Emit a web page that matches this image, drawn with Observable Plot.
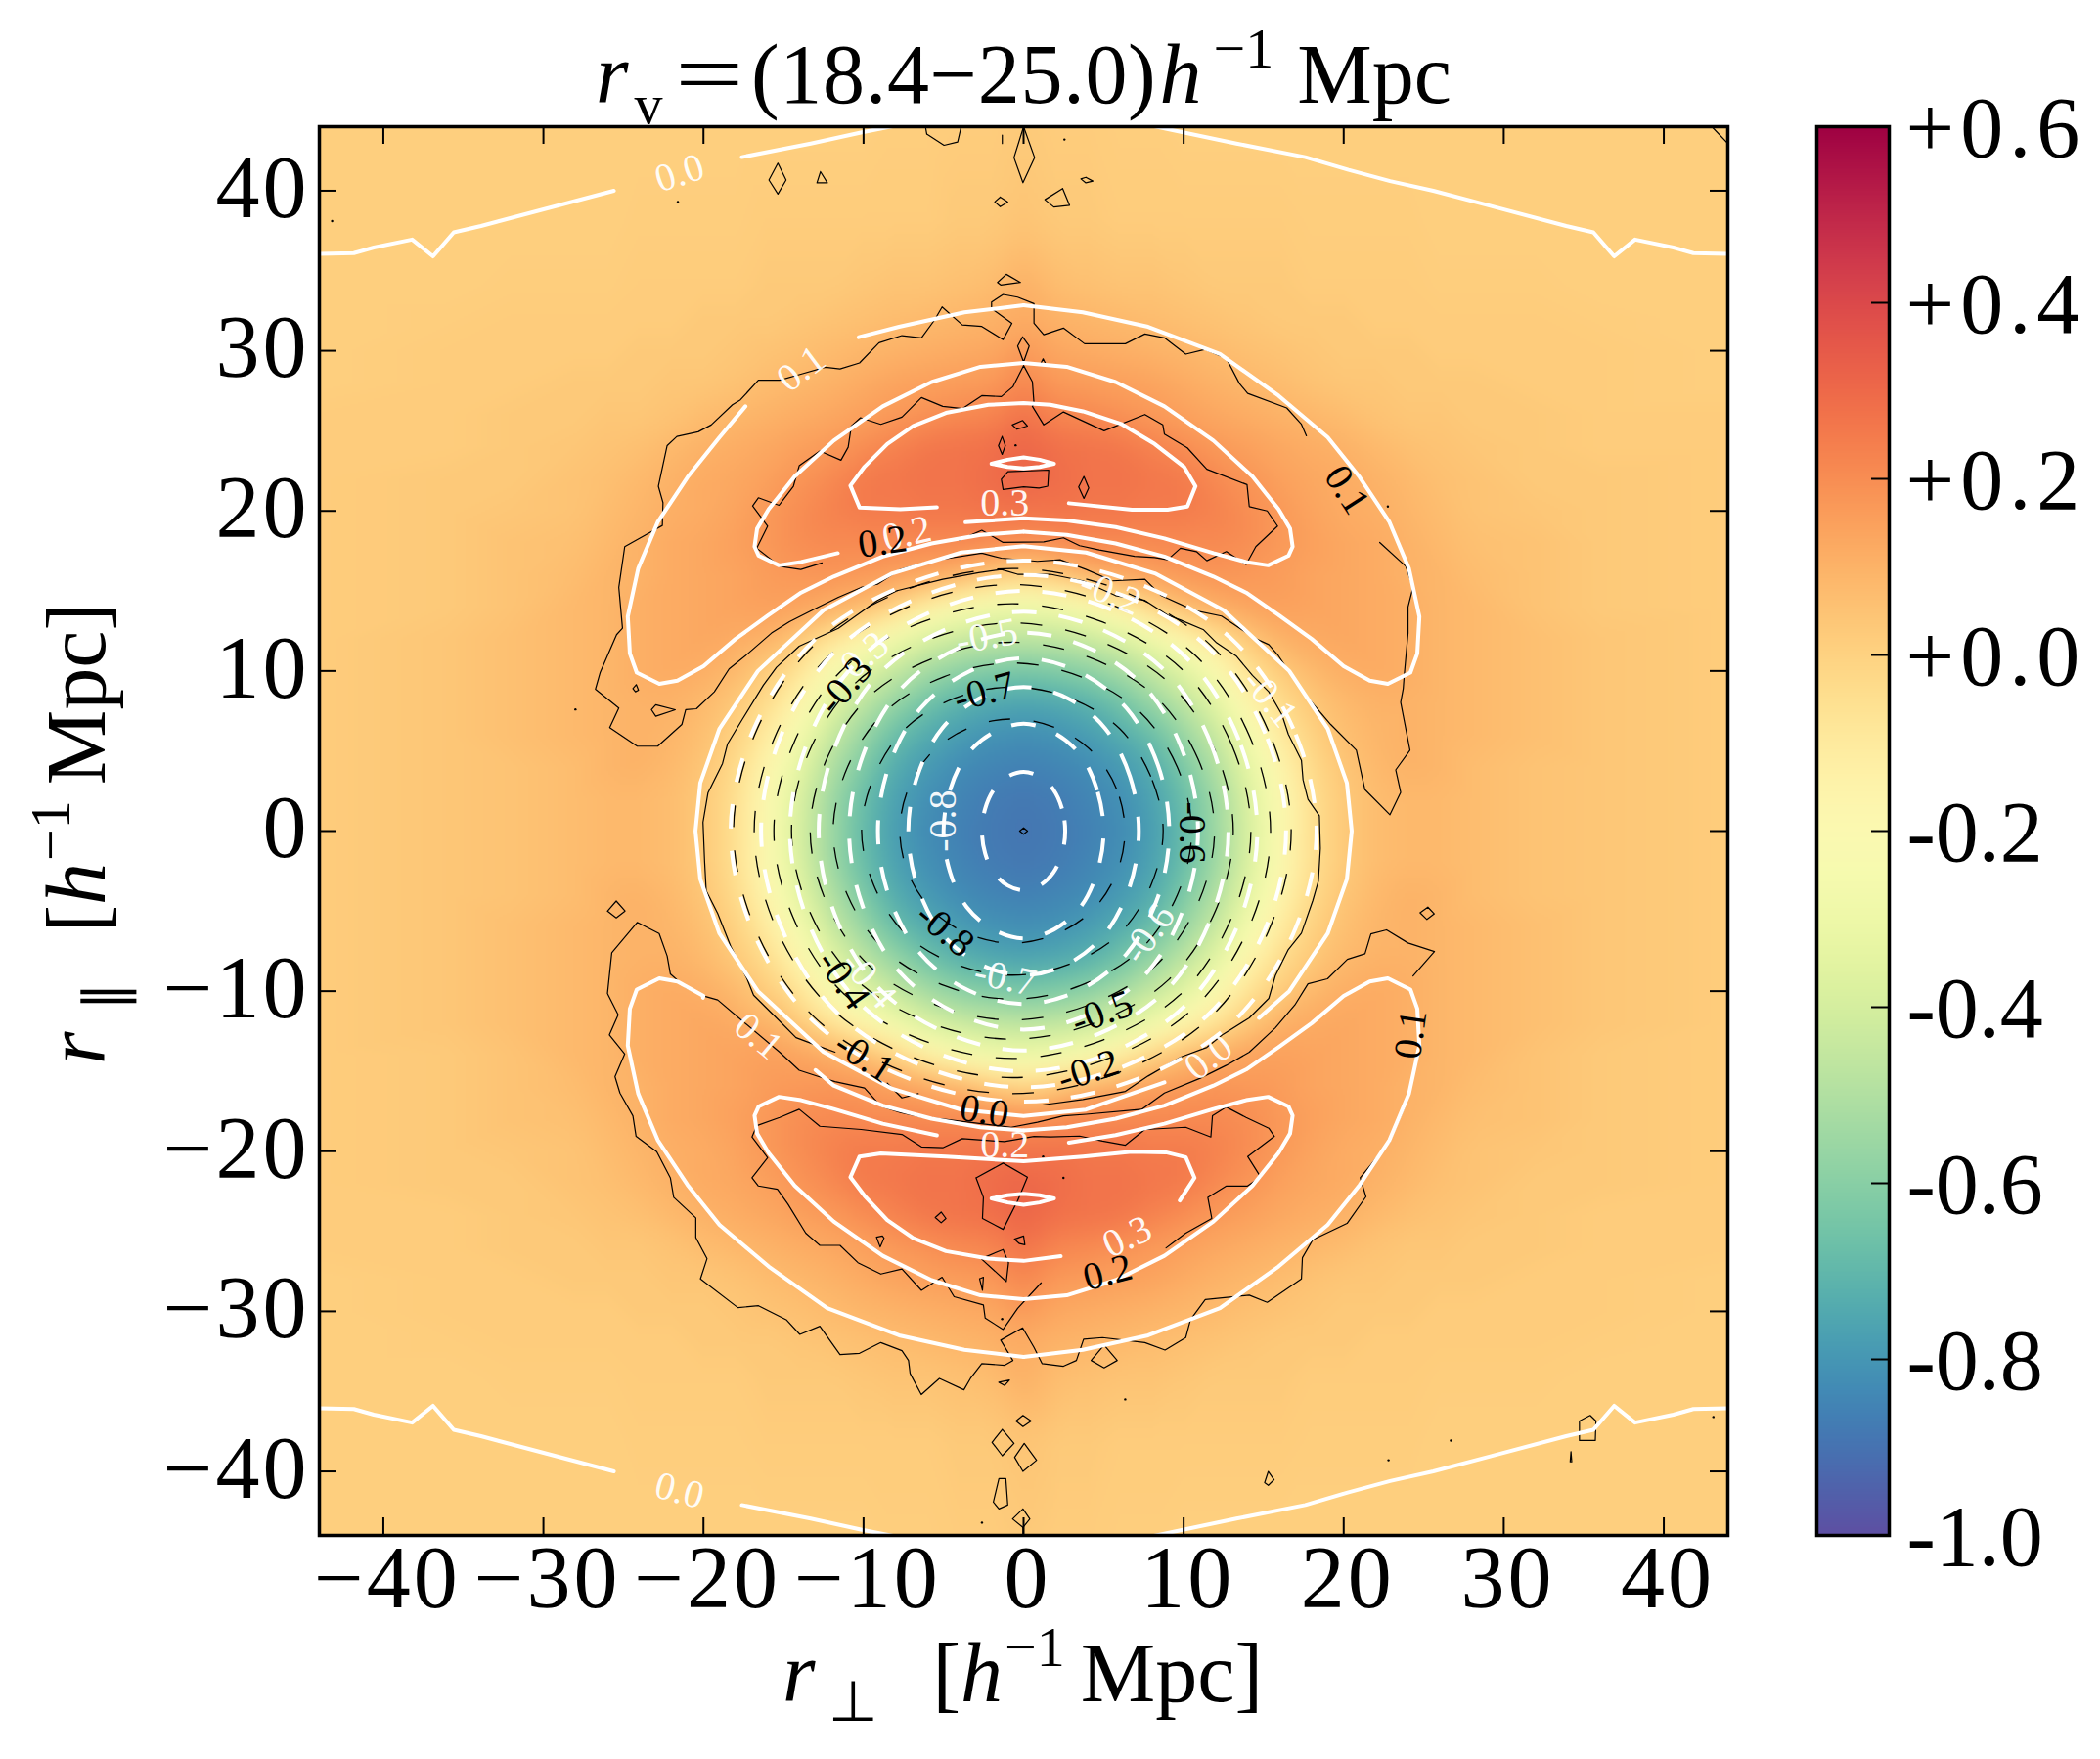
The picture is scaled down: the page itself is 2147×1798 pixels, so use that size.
<!DOCTYPE html>
<html><head><meta charset="utf-8">
<script src="https://cdn.jsdelivr.net/npm/d3@7"></script>
<script src="https://cdn.jsdelivr.net/npm/@observablehq/plot@0.6"></script>
<style>
html,body{margin:0;padding:0;background:#fff}
#page{position:relative;width:2147px;height:1798px;overflow:hidden}
#page svg{position:absolute;top:0;background:transparent;overflow:visible}
.lbl{position:absolute;font-family:"Liberation Serif",serif;font-size:86px;line-height:1;white-space:nowrap;color:#000}
.sup{position:relative;font-size:58px;top:-36px}
.sub{position:relative;font-size:58px;top:21px}
[aria-label="x-axis tick label"] text,[aria-label="y-axis tick label"] text{letter-spacing:3px}
.plusLabel text{letter-spacing:6px}
</style></head><body><div id="page"></div>
<script>
// ---------- stacked-profile field (one quadrant) ----------
const fieldX = [0,2,4,6,8,10,12,14,16,18,20,22,24,26,28,32,36,44];
const fieldY = [0,2,4,6,8,10,12,14,16,18,20,22,24,26,28,30,32,34,38,44];
const fieldV = [
[-.89,-.88,-.86,-.83,-.78,-.69,-.55,-.39,-.21,-.05,.03,.07,.08,.08,.07,.05,.04,.02],
[-.885,-.875,-.85,-.82,-.77,-.68,-.55,-.38,-.2,-.05,.03,.07,.08,.08,.07,.05,.04,.02],
[-.86,-.85,-.83,-.79,-.74,-.63,-.5,-.34,-.17,-.03,.04,.08,.1,.09,.07,.05,.04,.02],
[-.82,-.81,-.78,-.74,-.68,-.56,-.44,-.26,-.11,0,.06,.09,.1,.09,.08,.06,.04,.02],
[-.76,-.75,-.72,-.66,-.57,-.47,-.35,-.17,-.04,.03,.08,.1,.1,.09,.08,.06,.04,.02],
[-.64,-.62,-.59,-.53,-.45,-.36,-.22,-.07,.02,.08,.11,.12,.11,.09,.08,.06,.04,.02],
[-.47,-.46,-.43,-.38,-.29,-.17,-.07,.03,.1,.12,.13,.12,.11,.09,.08,.06,.04,.02],
[-.3,-.28,-.22,-.13,-.01,.07,.11,.14,.15,.14,.13,.12,.11,.09,.08,.05,.03,.02],
[0,.04,.1,.13,.15,.17,.18,.17,.16,.14,.13,.12,.1,.09,.07,.05,.03,.02],
[.19,.2,.21,.21,.21,.21,.21,.2,.17,.15,.13,.12,.1,.08,.06,.05,.03,.02],
[.27,.27,.26,.26,.25,.25,.23,.2,.17,.14,.12,.11,.09,.07,.05,.04,.03,.02],
[.31,.29,.27,.27,.26,.25,.21,.18,.15,.13,.12,.1,.08,.06,.05,.03,.03,.02],
[.31,.28,.27,.26,.23,.2,.17,.15,.13,.115,.1,.08,.06,.05,.04,.03,.02,.02],
[.27,.22,.21,.19,.17,.15,.13,.115,.1,.085,.07,.05,.04,.04,.03,.03,.02,.02],
[.22,.17,.16,.15,.14,.12,.1,.085,.07,.05,.04,.04,.03,.03,.03,.02,.02,.01],
[.17,.13,.12,.11,.1,.09,.075,.06,.05,.04,.03,.03,.03,.02,.02,.02,.02,.01],
[.12,.1,.09,.08,.07,.06,.05,.04,.03,.03,.03,.02,.02,.02,.02,.02,.015,.01],
[.11,.07,.06,.05,.05,.04,.03,.03,.03,.02,.02,.02,.02,.015,.015,.015,.01,.01],
[.05,.03,.03,.02,.02,.02,.02,.02,.02,.015,.015,.015,.015,.01,.01,.01,.01,.01],
[.03,.02,.02,.015,.015,.01,.01,.01,.01,.01,.01,.01,.01,.01,.01,.01,.01,.01]
];
const xTicks = [-40,-30,-20,-10,0,10,20,30,40];
const yTicks = [-40,-30,-20,-10,0,10,20,30,40];
const barTicks = [-1,-.8,-.6,-.4,-.2,0,.2,.4,.6];
const barLabels = ["-1.0","-0.8","-0.6","-0.4","-0.2","+0.0","+0.2","+0.4","+0.6"];

// ---------- model contours (white) ----------
const model00OuterLeft = [[-44,36.05],[-41.85,36.1],[-40.6,36.45],[-38.2,36.95],[-36.9,35.9],[-35.6,37.4],[-33.9,37.8],[-25.6,40]];
const model00OuterMid = [[-17.6,42.1],[-13.3,42.95],[-10.1,43.65],[-7.8,44.1]];
const model00OuterRight = [[7.8,44.1],[13.3,42.95],[17.6,42.1],[20.3,41.3],[22.9,40.6],[25.6,40],[33.9,37.8],[35.6,37.4],[36.9,35.9],[38.2,36.95],[40.6,36.45],[41.85,36.1],[44,36.05]];
const model01Arm = [[0,32.85],[3.7,32.4],[7.78,31.5],[12.27,29.8],[15.93,27.2],[19,24.6],[21,22.1],[22.86,19.3],[24.08,16.4],[24.73,13.4],[24.6,11.1],[24.17,9.9],[22.76,9.2],[21.63,9.4],[20,10.3],[18,12],[15.93,13.5],[13.9,14.9],[11.86,15.9],[8.8,17.15],[5.75,17.97],[2.7,18.5],[0,18.7]];
const model02Arm = [[0,29.24],[2.69,29],[5.75,28.05],[8.8,26.53],[11.86,24.39],[14.3,22.15],[15.93,20.1],[16.65,18.89],[16.81,17.77],[16.55,17.2],[15.28,16.6],[13.9,16.81],[11.86,17.36],[8.8,18.28],[5.75,18.99],[2.69,19.4],[0,19.54]];
const model03Top = [[-5.42,20.23],[-7.7,20.11],[-10.25,20.21],[-10.82,21.58],[-9.94,22.76],[-8.52,24.18],[-6.89,25.31],[-4.85,26.12],[-2.2,26.63],[0,26.73],[1.67,26.63],[3.71,26.22],[6.15,25.41],[8.19,24.18],[10.02,22.76],[10.74,21.54],[10.23,20.27],[9,20.07],[6.77,20.07],[2.83,20.48]];
const model03Bottom = [[9.76,-23.08],[10.68,-21.66],[10.13,-20.37],[8.9,-20.07],[6.77,-20.03],[3.71,-20.33],[0,-20.63],[-4.85,-20.33],[-8.92,-20.14],[-10.25,-20.33],[-10.82,-21.62],[-9.94,-22.78],[-8.52,-24.3],[-6.89,-25.43],[-4.85,-26.24],[-2.2,-26.71],[0,-26.85],[2.32,-26.55]];
const model035Top = [[-2,22.95],[-1,23.2],[0,23.35],[1,23.2],[1.9,22.95],[1,22.75],[0,22.66],[-1,22.75],[-2,22.95]];
const model035Bottom = [[-2,-22.95],[-1,-22.75],[0,-22.66],[1,-22.75],[1.9,-22.95],[1,-23.2],[0,-23.35],[-1,-23.2],[-2,-22.95]];
const model00Circle = [[14.71,-11.67],[16.6,-10],[19,-6.4],[20.2,-3],[20.5,0],[20.2,3],[19,6.4],[16.6,10],[12.5,13.8],[8.2,16.1],[3.9,17.4],[0,17.8],[-3.9,17.4],[-8.2,16.1],[-12.5,13.8],[-16.6,10],[-19,6.4],[-20.2,3],[-20.5,0],[-20.2,-3],[-19,-6.4],[-16.6,-10],[-12.5,-13.8],[-8.2,-16.1],[-3.9,-17.4],[0,-17.8],[3.9,-17.4],[8.8,-15.7]];
// negative model levels: one quadrant of each closed contour, -0.9 to -0.1
const modelNeg = [
[[2.6,0],[2.4,1.4],[1.85,2.6],[1,3.4],[0,3.7]],
[[5,0],[4.6,2.55],[3.55,4.75],[1.9,6.15],[0,6.7]],
[[7.2,0],[6.65,3.4],[5.1,6.4],[2.75,8.3],[0,9]],
[[9.1,0],[8.4,4.1],[6.45,7.65],[3.45,9.95],[0,10.8]],
[[10.9,0],[10.05,4.7],[7.75,8.8],[4.15,11.4],[0,12.4]],
[[12.8,0],[11.8,5.2],[9.1,9.75],[4.85,12.6],[0,13.7]],
[[14.6,0],[13.45,5.7],[10.35,10.65],[5.55,13.8],[0,15]],
[[16.4,0],[15.1,6.1],[11.65,11.35],[6.25,14.7],[0,16]],
[[18.3,0],[16.85,6.4],[13,12],[6.95,15.55],[0,16.9]]
];
// ---------- measured contours (thin black) ----------
const measNegCenter = -0.7;
const measNeg = [
[[7.03,0],[6.5,2.65],[5,4.95],[2.7,6.45],[0,7]],
[[9.42,0],[8.65,3.4],[6.7,6.4],[3.6,8.3],[0,9]],
[[11.2,0],[10.3,4],[7.95,7.45],[4.25,9.65],[0,10.5]],
[[12.63,0],[11.6,4.5],[8.95,8.4],[4.8,10.85],[0,11.8]],
[[13.8,0],[12.7,4.95],[9.8,9.25],[5.25,11.95],[0,13]],
[[14.9,0],[13.7,5.4],[10.6,10.1],[5.65,13.05],[0,14.2]],
[[16.13,0],[14.85,5.85],[11.45,10.95],[6.15,14.15],[0,15.4]],
[[17.42,0],[16,6.25],[12.35,11.65],[6.6,15.1],[0,16.4]]
];
const meas01Top = [[17.67,24.69],[17.36,25.41],[16.44,26.43],[14,27.34],[13.49,27.95],[12.67,29.52],[11.35,30.09],[10.13,29.79],[8.8,30.81],[7.58,31.05],[6.36,30.44],[3.81,30.44],[2.49,31.42],[1.26,31.01],[.65,31.72],[.65,32.95],[-.37,33.35],[-1.28,33.52],[-2,33.05],[-2,32.64],[-.73,31.72],[-1.28,30.7],[-2.61,31.52],[-3.83,31.62],[-5.09,32.74],[-5.56,31.93],[-6.38,30.81],[-7.6,30.95],[-9.03,30.5],[-10.25,29.24],[-11.47,28.87],[-12.39,28.97],[-13.81,28.57],[-15.24,28.16],[-16.57,28.16],[-17.69,26.94],[-18.19,26.63],[-19.52,25.37],[-20.33,24.94],[-21.66,24.65],[-22.27,24.08],[-22.82,21.54],[-22.53,20.52],[-22.57,19.09],[-23.29,18.68],[-24.92,17.77],[-25.29,15.22],[-25.06,12.67],[-25.43,12.27],[-26.45,9.92],[-26.75,8.86],[-25.29,7.68],[-25.86,6.46],[-24.14,5.3],[-22.86,5.3],[-21.35,6.66],[-21.11,7.58],[-20.44,7.64],[-19.32,8.7],[-18.4,10.13],[-17.28,11.04],[-15.75,12.37],[-14.63,13.08],[-13,13.9],[-11.57,14.61],[-10.15,15.22],[-9.13,15.42],[-7.7,16.34],[-5.87,16.85],[-2.61,17.36],[-1.39,17.05],[.86,16.85],[2.28,16.95],[3.91,16.34],[5.54,15.63],[7.58,15.73],[8.6,14.71],[10.64,13.79],[12.37,13.43],[14.41,12.06],[15.32,11.65],[15.93,10.94],[17.36,8.8],[19.19,6.66],[20.79,5.05],[21.32,2.6],[22.89,1.02],[23.56,2.42],[23.25,3.82],[24.14,5.05],[23.56,8.04],[23.72,8.9],[23.78,9.72],[24.02,12.37],[24.02,14],[24.33,15.22],[23.88,16.54],[22.25,18.03]];
const meas02Top = [[-12.59,16.75],[-13.92,16.34],[-15.24,16.54],[-16.67,17.67],[-15.99,19.05],[-16.93,20.31],[-16.57,20.82],[-15.28,20.35],[-14.38,21.54],[-14.02,22.82],[-12.73,23.74],[-11.41,23.17],[-10.96,23.98],[-10.76,25.31],[-10.19,25.82],[-8.92,25.41],[-7.6,25.86],[-6.38,27.08],[-5.05,26.53],[-3.83,26.39],[-2.61,27.2],[-1.39,27.14],[-.67,27.75],[0,29.08],[.55,28.06],[.65,26.73],[.55,26.53],[1.26,25.37],[2.49,26.18],[5.03,25],[7.58,26.02],[8.7,25.37],[8.8,24.8],[10.23,23.94],[11.45,22.6],[13.96,21.64],[14.1,20.27],[15.22,20],[15.87,19.05],[14.51,17.77],[13.9,16.65],[12.67,17.46],[11.45,16.89],[10.8,17.46],[9.8,17.67],[9,16.95],[8.19,17.09],[6.93,17.16],[4.73,17.56],[3.5,17.83],[2.49,18.32],[1.26,18.07],[-1.28,18.03],[-2.61,18.79],[-4.03,18.17]];
const meas01Bottom = [[24.33,-9.05],[25.67,-7.52],[24.02,-6.99],[22.68,-6.17],[21.7,-6.42],[21.33,-7.66],[20.23,-8.01],[18.99,-9.23],[17.77,-9.54],[16.95,-10.86],[15.73,-12.29],[14.1,-13.81],[12.67,-14.63],[11.04,-15.44],[8.8,-16.36],[7.38,-17.38],[3.91,-17.69],[2.49,-17.79],[.86,-18.19],[-.77,-18.5],[-5.05,-17.99],[-6.28,-17.89],[-7.7,-17.58],[-8.92,-17.18],[-9.94,-16.05],[-11.78,-15.65],[-12.8,-15.34],[-14.02,-14.94],[-15.24,-13.81],[-17.79,-11.67],[-19.11,-10.55],[-20.03,-10.29],[-21.15,-9.74],[-22.07,-8.92],[-22.27,-7.8],[-22.77,-6.4],[-24.14,-5.7],[-25.73,-7.6],[-26,-10.15],[-25.33,-11.47],[-25.88,-12.73],[-24.92,-13.92],[-25.53,-15.34],[-25.22,-16.36],[-24.41,-17.79],[-24.21,-19.07],[-22.92,-20.03],[-22.07,-21.66],[-21.86,-22.88],[-20.48,-24.16],[-20.48,-25.39],[-19.78,-26.71],[-20.19,-27.97],[-17.85,-29.77],[-16.56,-29.65],[-14.83,-30.52],[-13.98,-31.44],[-12.73,-30.93],[-11.47,-32.7],[-10.25,-32.62],[-8.92,-31.95],[-7.6,-32.46],[-7.19,-33.07],[-7.09,-33.88],[-6.39,-35.2],[-5.26,-34.19],[-3.73,-34.9],[-3.32,-34.19],[-2.61,-33.27],[-1.18,-33.37],[-.67,-33.07],[-1.43,-31.8],[-.06,-31.03],[.65,-32.25],[1.16,-33.27],[2.49,-33.43],[3.3,-33.07],[3.75,-31.74],[4.93,-31.64],[7.58,-31.95],[8.84,-32.42],[10.13,-31.64],[10.43,-30.52],[11.35,-29.26],[14.1,-28.99],[15.22,-29.44],[17.36,-27.97],[17.42,-26.65],[18.07,-25.53],[20.21,-24.51],[21.39,-22.84],[21.03,-21.66],[22.86,-19.42],[23.78,-17.28]];
const meas02Bottom = [[8.9,-26.04],[10.13,-25.12],[11.76,-24.2],[11.51,-22.88],[12.67,-22.17],[13.99,-22.17],[14.81,-21.61],[14,-20.33],[15.67,-19.07],[15.32,-18.56],[13.9,-17.89],[12.67,-17.24],[11.8,-17.79],[11.7,-19.11],[10.13,-18.5],[7.58,-18.64],[6.36,-19.62],[4.93,-19.36],[3.5,-19.05],[1.67,-19.11],[.65,-19.07],[-1.2,-19.4],[-3.83,-19.21],[-5.05,-19.78],[-6.38,-19.73],[-7.6,-18.95],[-10.15,-18.64],[-12.73,-18.44],[-14.02,-17.38],[-15.24,-17.89],[-16.67,-18.4],[-16.97,-19.11],[-15.99,-20.4],[-16.97,-21.66],[-16.57,-22.17],[-15.38,-22.37],[-14.73,-23.29],[-13.61,-25.12],[-12.73,-25.88],[-11.47,-25.88],[-10.35,-26.96],[-8.92,-27.67],[-7.6,-27.36],[-6.38,-28.69],[-5.09,-27.87],[-4.34,-29.09],[-2.51,-29.6],[-2.4,-30.42],[-1.28,-31.13],[-.37,-29.81],[1.1,-28.22]];
const meas00A = [[-7.9,15.02],[-9.13,14.41],[-11.57,12.67],[-14.02,11.55],[-15.44,10.23],[-16.26,9.11],[-17.58,6.97],[-18.5,5.44],[-18.81,4.22],[-19.72,2.38],[-20.03,.55],[-19.93,-1.89],[-19.83,-3.73],[-19.11,-5.15],[-18.3,-7.19],[-17.28,-9.23],[-16.87,-10.25],[-15.44,-11.67],[-14.22,-12.9],[-12.59,-13.51],[-11.78,-13.81]];
const meas00B = [[-8.52,-15.75],[-7.6,-16.67],[-6.58,-16.4]];
const meas00C = [[1.16,-17.11],[3.71,-16.77],[6.36,-16.26],[7.78,-15.3],[9.82,-14.12],[11.45,-13.51],[12.47,-12.69],[14.1,-11.67],[15.32,-10.45],[15.73,-9.03],[16.54,-7.4],[17.36,-6.38],[18.07,-4.34],[18.42,-3.12],[18.54,-1.08],[18.48,.96],[17.77,1.98],[17.46,3.2],[17.36,4.42],[16.54,6.05],[16.14,7.27],[15.32,8.7],[14.3,9.72],[13.28,10.94],[12.06,11.76],[11.25,12.57],[9.82,13.18],[9,13.49],[7.58,14.41],[5.75,14.71],[3.71,15.63],[1.67,16.04],[-.37,16.04],[-1.39,16.34],[-2.81,16.14],[-5.05,15.73],[-7.9,15.02]];
const measSmall = [
[[-.06,30.87],[.35,30.3],[0,29.3],[-.37,30.3]],
[[-.71,25.37],[-.06,25.65],[.24,25.3],[-.41,25.1]],
[[-1.34,24.65],[-1.14,24.08],[-1.34,23.53],[-1.57,24.08]],
[[-.98,22.45],[-1.39,21.98],[-1.28,21.33],[0,21.5],[.96,21.43],[1.51,21.54],[1.57,22.55]],
[[3.77,22.15],[4.07,21.43],[3.77,20.78],[3.44,21.5]],
[[-1.63,34.27],[-1.08,34.78],[-.2,34.27],[-1.43,34.11]],
[[1.22,29.5],[1.37,29.2],[1.07,29.2]],
[[-24.41,8.9],[-24.2,9.15],[-24.06,8.8],[-24.25,8.7]],
[[-23.25,7.58],[-22.98,7.89],[-21.76,7.58],[-22.98,7.17]],
[[-15.35,41.72],[-14.84,40.67],[-15.35,39.79],[-15.91,40.67]],
[[-12.69,41.19],[-12.26,40.49],[-12.91,40.49]],
[[-6.05,43.54],[-4.97,42.84],[-4.12,43.05],[-3.9,44],[-6.13,44]],
[[0,44],[.69,42.07],[-.04,40.5],[-.6,42.07]],
[[-1.46,39.6],[-.99,39.3],[-1.46,39],[-1.8,39.3]],
[[2.44,40.14],[2.87,39.09],[1.89,38.98],[1.33,39.44]],
[[3.89,40.84],[4.33,40.6],[3.89,40.49],[3.58,40.74]],
[[-2.97,-21.66],[-1.28,-20.74],[.24,-21.62],[-.37,-23.08],[-1.28,-24.88],[-2.57,-24.2],[-2.51,-22.88]],
[[-5.52,-24.14],[-5.15,-23.8],[-4.85,-24.2],[-5.15,-24.47]],
[[-9.19,-25.37],[-8.82,-25.29],[-8.72,-25.43],[-8.96,-25.98]],
[[-.57,-25.49],[0,-25.29],[.08,-25.84],[-.26,-25.77]],
[[-2.65,-26.71],[-1.28,-26.14],[-.94,-26.96],[-1.08,-28.14]],
[[-2.75,-27.97],[-2.51,-27.87],[-2.57,-28.69]],
[[-1.55,-34.43],[-.88,-34.29],[-1.18,-34.63]],
[[4.22,-33.07],[5.03,-32.11],[5.85,-33.07],[5.03,-33.53]],
[[-.47,-36.85],[-.04,-36.5],[.47,-36.85],[-.04,-37.2]],
[[-1.97,-38.18],[-1.33,-37.37],[-.6,-38.25],[-1.33,-39.02]],
[[-.56,-39.12],[.04,-38.25],[.81,-39.3],[-.04,-40]],
[[-1.89,-41.92],[-1.54,-40.45],[-1.11,-40.45],[-.99,-42.1],[-1.54,-42.34]],
[[-.04,-42.34],[.39,-42.97],[-.04,-43.5],[-.69,-42.97]],
[[15.06,-40.7],[15.29,-40],[15.65,-40.52],[15.29,-40.87]],
[[34.73,-36.85],[35.4,-36.5],[35.76,-36.85],[35.72,-38.07],[34.73,-38.07]],
[[24.77,-5.1],[25.26,-4.75],[25.66,-5.17],[25.2,-5.52]],
[[-26,-5],[-25.45,-4.37],[-24.9,-4.99],[-25.45,-5.42]],
[[-.25,0],[0,.2],[.25,0],[0,-.2]]
];
const measOpen = [
[[-1.33,43.48],[-1.33,42.95]],[[43,44],[44,42.95]],[[-.04,-43.5],[-.04,-44]],[[34.2,-38.77],[34.25,-39.4],[34.15,-39.4],[34.2,-38.77]]
];
const measDots = [[-43.2,38.1],[-21.6,39.3],[-28,7.6],[2.55,43.2],[22.76,20.27],[-1.34,-30.48],[1.22,-20.33],[2.49,-21.66],[-2.6,-43.2],[6.35,-35.5],[26.7,-38.07],[22.8,-39.3],[43.1,-36.6],[-.5,24.1]];

// ---------- contour labels: x, y, text, angle ----------
const whiteLabels = [
[-21.5,41.1,"0.0",-18],[-13.9,28.87,"0.1",-37],[-7.3,18.58,"0.2",-13],[-1.18,20.52,"0.3",0],
[5.44,14.9,"-0.2",22],[15.4,8.3,"-0.1",50],[-2.3,12.16,"-0.5",-10],[-10.25,10.74,"-0.3",-40],
[-5.05,.63,"-0.8",-90],[-1.15,-9.15,"-0.7",12],[7.8,-6.4,"-0.6",-55],[-9.67,-9.28,"-0.4",50],
[-16.57,-12.8,"0.1",40],[11.55,-14.12,"0.0",-38],[-1.18,-19.62,"0.2",0],[6.46,-25.33,"0.3",-25],[-21.5,-41.2,"0.0",15]
];
const blackLabels = [
[-8.82,18.07,"0.2",-8],[20.2,21.33,"0.1",57],[-11.17,9.1,"-0.3",-50],[-2.45,8.7,"-0.7",-15],
[10.5,-.1,"-0.6",90],[-4.9,-6.14,"-0.8",40],[-11.25,-9.28,"-0.4",55],[4.9,-11.33,"-0.5",-20],
[4.04,-14.95,"-0.2",-18],[-9.95,-14.1,"-0.1",33],[-2.45,-17.5,"0.0",10],[5.24,-27.57,"0.2",-15],[24.19,-12.69,"0.1",-82]
];

// ---------- helpers ----------
const mirX = p => p.map(([x,y]) => [-x,y]);
const flipY = p => p.map(([x,y]) => [x,-y]);
const ring = (q,cx=0) => [
  ...q,
  ...q.slice(0,-1).reverse().map(([x,y])=>[-x,y]),
  ...q.slice(1).map(([x,y])=>[-x,-y]),
  ...q.slice(1,-1).reverse().map(([x,y])=>[x,-y])
].map(([x,y])=>[x+cx,y]);

const fieldPoints = [];
fieldY.forEach((y,j)=>fieldX.forEach((x,i)=>{
  for (const sx of x===0?[1]:[1,-1]) for (const sy of y===0?[1]:[1,-1])
    fieldPoints.push({x:sx*x,y:sy*y,v:fieldV[j][i]});
}));

const whiteSolid = [
  model00OuterLeft, model00OuterMid, model00OuterRight,
  flipY(model00OuterLeft), flipY(model00OuterMid), flipY(model00OuterRight),
  model00Circle,
  model01Arm,
  [...mirX(model01Arm.slice(0,3)),[-10.3,30.85]],
  [[-17.38,26.53],...mirX(model01Arm.slice(5))],
  flipY(model01Arm),
  flipY(mirX(model01Arm.slice(0,15))).concat([[-20.03,-10.41]]),
  [[-13,-14.93],...flipY(mirX(model01Arm.slice(18)))],
  [...model02Arm,[-3.63,19.29]],
  [...mirX(model02Arm.slice(0,12)),[-11.61,17.36]],
  [...flipY(mirX(model02Arm.slice(0,14))),[-5.42,-19.01]],
  [...flipY(model02Arm.slice(0,15)),[2.83,-19.46]],
  model03Top, model03Bottom, model035Top, model035Bottom
];
const blackSolid = [meas01Top,meas02Top,meas01Bottom,meas02Bottom,meas00A,meas00B,meas00C,...measOpen,
  ...measSmall.map(p=>[...p,p[0]])];

const serif = '"Liberation Serif",serif';
const colorOpts = {type:"linear",scheme:"Spectral",reverse:true,domain:[-1,.6]};
const signed = d => d<0 ? "\u2212"+(-d) : String(d);
const px = d=>d[0], py = d=>d[1];

const main = Plot.plot({
  width:2147,height:1798,
  marginLeft:326,marginRight:381,marginTop:129,marginBottom:229,
  style:{fontFamily:serif,background:"transparent"},
  x:{domain:[-44,44],label:null},
  y:{domain:[-44,44],label:null},
  color:colorOpts,
  marks:[
    Plot.raster(fieldPoints,{x:"x",y:"y",fill:"v",interpolate:"barycentric",pixelSize:2,blur:5,x1:-44,x2:44,y1:-44,y2:44}),
    ...measNeg.map(q=>Plot.line(ring(q,measNegCenter),{x:px,y:py,curve:"catmull-rom-closed",stroke:"#000",strokeWidth:1.3,strokeDasharray:"22,24",strokeLinecap:"butt"})),
    ...blackSolid.map(p=>Plot.line(p,{x:px,y:py,stroke:"#000",strokeWidth:1.2,clip:true})),
    Plot.dot(measDots,{x:px,y:py,r:1.2,fill:"#000",stroke:"none"}),
    ...modelNeg.map(q=>Plot.line(ring(q),{x:px,y:py,curve:"catmull-rom-closed",stroke:"#fff",strokeWidth:4,strokeDasharray:"25,23",strokeLinecap:"butt"})),
    ...whiteSolid.map(p=>Plot.line(p,{x:px,y:py,stroke:"#fff",strokeWidth:4,clip:true})),
    Plot.text(whiteLabels,{x:px,y:py,text:d=>d[2],rotate:d=>d[3],fill:"#fff",fontSize:40,fontFamily:serif,fillOpacity:.95}),
    Plot.text(blackLabels,{x:px,y:py,text:d=>d[2],rotate:d=>d[3],fill:"#000",fontSize:40,fontFamily:serif}),
    Plot.tickX(xTicks,{x:d=>d,insetBottom:0,insetTop:1422,stroke:"#000",strokeWidth:2}),
    Plot.tickX(xTicks,{x:d=>d,insetTop:0,insetBottom:1422,stroke:"#000",strokeWidth:2}),
    Plot.tickY(yTicks,{y:d=>d,insetLeft:0,insetRight:1422,stroke:"#000",strokeWidth:2}),
    Plot.tickY(yTicks,{y:d=>d,insetRight:0,insetLeft:1422,stroke:"#000",strokeWidth:2}),
    Plot.axisX({anchor:"bottom",ticks:xTicks,tickFormat:signed,tickSize:0,tickPadding:10,fontSize:90,dx:4,label:null}),
    Plot.axisY({anchor:"left",ticks:yTicks,tickFormat:signed,tickSize:0,tickPadding:10,fontSize:90,dy:-2,label:null}),
    Plot.frame({stroke:"#000",strokeWidth:3.5})
  ]
});
main.style.left="0px";

const barRows = barTicks.map((v,i)=>({v,label:barLabels[i]}));
const bar = Plot.plot({
  width:290,height:1798,
  marginLeft:0,marginRight:216,marginTop:129,marginBottom:229,
  style:{fontFamily:serif,background:"transparent"},
  x:{domain:[0,1],axis:null},
  y:{domain:[-1,.6],axis:null},
  color:colorOpts,
  marks:[
    Plot.raster({fill:(x,y)=>y,x1:0,x2:1,y1:-1,y2:.6,width:1,height:800,imageRendering:"auto"}),
    Plot.tickY(barTicks.slice(1,-1),{y:d=>d,insetLeft:56,stroke:"#000",strokeWidth:2}),
    Plot.text(barRows.filter(d=>d.v>=0),{x:()=>1,y:"v",text:"label",textAnchor:"start",dx:17,dy:2,fontSize:88,fontFamily:serif,className:"plusLabel"}),
    Plot.text(barRows.filter(d=>d.v<0),{x:()=>1,y:"v",text:"label",textAnchor:"start",dx:18,dy:2,fontSize:88,fontFamily:serif}),
    Plot.frame({stroke:"#000",strokeWidth:3.5})
  ]
});
bar.style.left="1857px";

const page = document.getElementById("page");
page.append(main,bar);
const addLabel = (html,css) => {
  const d=document.createElement("div");d.className="lbl";d.innerHTML=html;d.style.cssText=css;page.append(d);
};
addLabel('<i>r</i><span class="sub" style="margin-left:6px">v</span><span style="display:inline-block;margin-left:24px;transform:scaleX(1.45)">=</span><span style="margin-left:18px;letter-spacing:.7px">(18.4\u221225.0)</span><i style="margin-left:3px">h</i><span class="sup" style="margin-left:12px">\u22121</span><span style="margin-left:24px">Mpc</span>','left:609px;top:33px');
addLabel('<i>r</i><span class="sub" style="top:20px;margin-left:14px">\u22a5</span><span style="margin-left:55px">[</span><i>h</i><span class="sup" style="margin-left:2px">\u22121</span><span style="margin-left:16px">Mpc]</span>','left:800px;top:1667px');
addLabel('<i>r</i><span class="sub" style="top:20px;margin-left:22px">\u2225</span><span style="margin-left:50px">[</span><i>h</i><span class="sup" style="margin-left:2px">\u22121</span><span style="margin-left:16px">Mpc]</span>','left:35px;top:1088px;transform-origin:0 0;transform:rotate(-90deg)');
</script></body></html>
